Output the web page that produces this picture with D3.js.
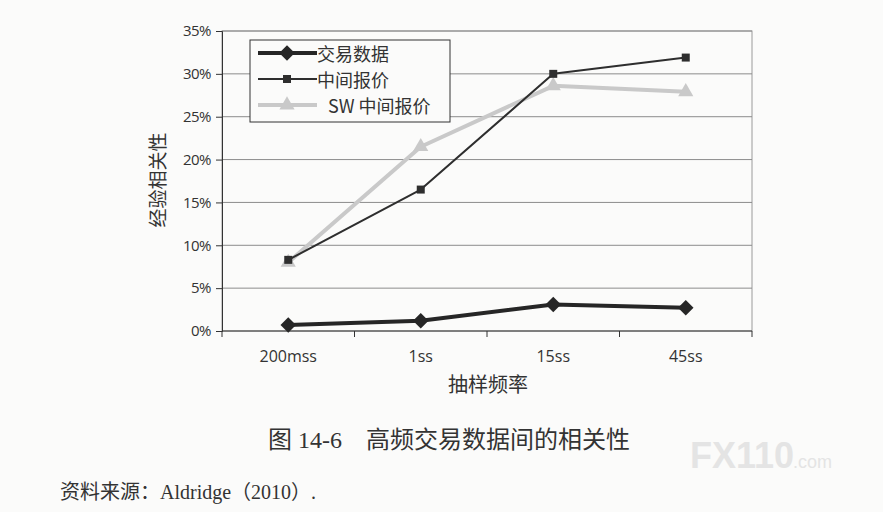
<!DOCTYPE html>
<html>
<head>
<meta charset="utf-8">
<script src="https://cdn.jsdelivr.net/npm/d3@7"></script>
<style>
  body { margin: 0; background: #fbfbfa; }
  svg { display: block; }
</style>
</head>
<body>
<svg width="883" height="512"></svg>
<script>
const categories = ["200mss", "1ss", "15ss", "45ss"];
const tradeData = [0.7, 1.2, 3.1, 2.7];
const midQuote = [8.3, 16.5, 30.0, 31.9];
const swMidQuote = [8.0, 21.5, 28.6, 27.9];
const yTicks = [0, 5, 10, 15, 20, 25, 30, 35];

const series = [
  { name: "交易数据", values: tradeData, color: "#262626", width: 4, marker: "diamond", size: 120 },
  { name: "中间报价", values: midQuote, color: "#2e2e2e", width: 2, marker: "square", size: 64 },
  { name: "SW 中间报价", values: swMidQuote, color: "#c9c9c9", width: 4, marker: "triangle", size: 100 }
];

const svg = d3.select("svg");
const margin = { top: 31, left: 222, right: 131, bottom: 181 };
const width = +svg.attr("width");
const height = +svg.attr("height");
const innerWidth = width - margin.left - margin.right;
const innerHeight = height - margin.top - margin.bottom;

const x = d3.scaleBand().domain(categories).range([0, innerWidth]);
const y = d3.scaleLinear().domain([0, 35]).range([innerHeight, 0]);

const g = svg.append("g").attr("transform", `translate(${margin.left},${margin.top})`);

// plot frame
g.append("rect")
  .attr("width", innerWidth).attr("height", innerHeight)
  .attr("fill", "none").attr("stroke", "#9a9a9a").attr("stroke-width", 1);

// gridlines
g.selectAll(".grid")
  .data(yTicks.slice(1))
  .enter().append("line")
  .attr("x1", 0).attr("x2", innerWidth)
  .attr("y1", d => y(d)).attr("y2", d => y(d))
  .attr("stroke", "#8c8c8c").attr("stroke-width", 1);

// y axis
const yAxis = g.append("g")
  .call(d3.axisLeft(y).tickValues(yTicks).tickSize(6).tickFormat(d => d + "%"));
yAxis.selectAll("text")
  .attr("font-family", "'Open Sans', sans-serif").attr("font-size", 15).attr("fill", "#333")
  .attr("dx", -2).attr("letter-spacing", -0.5);
yAxis.selectAll("line, path").attr("stroke", "#333");

// x axis with ticks at band boundaries
const xAxis = g.append("g").attr("transform", `translate(0,${innerHeight})`);
xAxis.append("line").attr("x1", 0).attr("x2", innerWidth).attr("stroke", "#333");
const bounds = categories.map(c => x(c)).concat([innerWidth]);
xAxis.selectAll(".tick")
  .data(bounds)
  .enter().append("line")
  .attr("x1", d => d).attr("x2", d => d)
  .attr("y1", 0).attr("y2", 6).attr("stroke", "#333");
xAxis.selectAll(".lbl")
  .data(categories)
  .enter().append("text")
  .attr("x", d => x(d) + x.bandwidth() / 2)
  .attr("y", 31)
  .attr("text-anchor", "middle")
  .attr("font-family", "'Open Sans', sans-serif").attr("font-size", 16).attr("fill", "#333")
  .text(d => d);

// axis titles
svg.append("text")
  .attr("transform", `translate(156,180) rotate(-90)`)
  .attr("text-anchor", "middle").attr("dominant-baseline", "central")
  .attr("font-family", "'Noto Sans CJK SC', sans-serif").attr("font-size", 19).attr("fill", "#333")
  .text("经验相关性");
svg.append("text")
  .attr("x", 488).attr("y", 392)
  .attr("text-anchor", "middle")
  .attr("font-family", "'Noto Sans CJK SC', sans-serif").attr("font-size", 20).attr("fill", "#333")
  .text("抽样频率");

const symbols = { diamond: d3.symbolSquare, square: d3.symbolSquare, triangle: d3.symbolTriangle };
const rot = m => (m === "diamond" ? " rotate(45)" : "");
const line = d3.line()
  .x((d, i) => x(categories[i]) + x.bandwidth() / 2)
  .y(d => y(d));

// draw SW first so it sits under the mid-quote line
[series[2], series[1], series[0]].forEach(s => {
  g.append("path")
    .datum(s.values)
    .attr("d", line)
    .attr("fill", "none")
    .attr("stroke", s.color)
    .attr("stroke-width", s.width)
    .attr("stroke-linejoin", "round");
  g.selectAll(null)
    .data(s.values)
    .enter().append("path")
    .attr("transform", (d, i) => `translate(${x(categories[i]) + x.bandwidth() / 2},${y(d)})${rot(s.marker)}`)
    .attr("d", d3.symbol(symbols[s.marker], s.size))
    .attr("fill", s.color);
});

// legend
const legend = svg.append("g").attr("transform", "translate(250,40)");
legend.append("rect")
  .attr("width", 200).attr("height", 82)
  .attr("fill", "#fbfbfa").attr("stroke", "#333").attr("stroke-width", 1);
series.forEach((s, i) => {
  const ly = 13 + i * 26;
  const row = legend.append("g").attr("transform", `translate(0,${ly})`);
  row.append("line")
    .attr("x1", 8).attr("x2", 67).attr("y1", 0).attr("y2", 0)
    .attr("stroke", s.color).attr("stroke-width", s.width);
  row.append("path")
    .attr("transform", `translate(37,0)${rot(s.marker)}`)
    .attr("d", d3.symbol(symbols[s.marker], s.size))
    .attr("fill", s.color);
  row.append("text")
    .attr("x", i === 2 ? 78 : 67).attr("y", 0)
    .attr("dominant-baseline", "central")
    .attr("font-family", "'Noto Sans CJK SC', sans-serif").attr("font-size", 18).attr("fill", "#333")
    .text(s.name);
});

// caption and source
svg.append("text")
  .attr("x", 449).attr("y", 448)
  .attr("text-anchor", "middle")
  .attr("font-family", "'Liberation Serif', 'Noto Sans CJK SC', serif").attr("font-size", 24).attr("fill", "#333")
  .attr("xml:space", "preserve")
  .text("图 14-6    高频交易数据间的相关性");
svg.append("text")
  .attr("x", 60).attr("y", 499)
  .attr("font-family", "'Liberation Serif', 'Noto Sans CJK SC', serif").attr("font-size", 20).attr("fill", "#333")
  .text("资料来源：Aldridge（2010）.");

// watermark
svg.append("text")
  .attr("x", 690).attr("y", 468)
  .attr("font-family", "'Liberation Sans', sans-serif").attr("font-weight", "bold").attr("font-size", 36)
  .attr("fill", "#e4e4e4")
  .text("FX110");
svg.append("text")
  .attr("x", 793).attr("y", 468)
  .attr("font-family", "'Liberation Sans', sans-serif").attr("font-size", 18)
  .attr("fill", "#e4e4e4")
  .text(".com");
</script>
</body>
</html>
